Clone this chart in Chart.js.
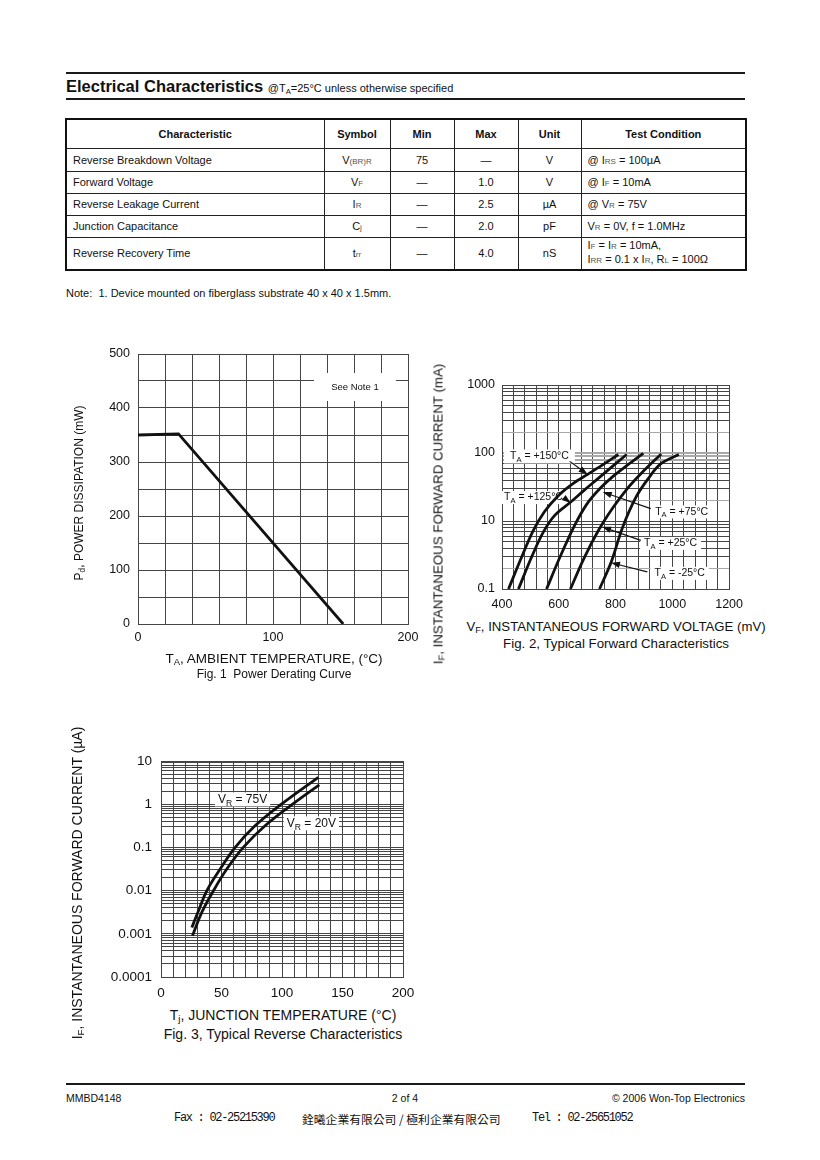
<!DOCTYPE html>
<html>
<head>
<meta charset="utf-8">
<script src="https://cdn.jsdelivr.net/npm/chart.js@4.4.0/dist/chart.umd.min.js"></script>
<style>
body { margin:0; background:#fff; color:#111; font-family:"Liberation Sans", Arial, sans-serif; }
#page { position:relative; width:820px; height:1160px; overflow:hidden; }
.abs { position:absolute; white-space:nowrap; }
.rule { position:absolute; left:66px; width:679px; background:#1a1a1a; }
.vt { position:absolute; white-space:nowrap; transform:translate(-50%,-50%) rotate(-90deg); }
.ct { position:absolute; white-space:nowrap; transform:translate(-50%,-50%); }
sub { font-size:70%; vertical-align:-0.25em; line-height:0; }
#spec { position:absolute; left:65px; top:118px; width:680px; border-collapse:collapse; border:2px solid #111; font-size:11px; table-layout:fixed; }
#spec th, #spec td { border:1px solid #222; padding:0 6px; text-align:center; }
#spec th { font-weight:bold; }
#spec td.l { text-align:left; }
.s { font-size:8px; color:#555; }
.mono { font-family:"Liberation Mono", monospace; font-size:12px; letter-spacing:-1.3px; }
canvas { position:absolute; }
</style>
</head>
<body>
<div id="page">
  <div class="rule" style="top:72px;height:2px"></div>
  <div class="abs" style="left:66px;top:77px;font-weight:bold;font-size:16.5px">Electrical Characteristics <span style="font-weight:normal;font-size:11px">@T<sub>A</sub>=25°C unless otherwise specified</span></div>
  <div class="rule" style="top:98px;height:2px"></div>

  <table id="spec">
    <colgroup><col style="width:258px"><col style="width:66px"><col style="width:64px"><col style="width:64px"><col style="width:63px"><col style="width:165px"></colgroup>
    <tr style="height:29px"><th>Characteristic</th><th>Symbol</th><th>Min</th><th>Max</th><th>Unit</th><th>Test Condition</th></tr>
    <tr style="height:23px"><td class="l">Reverse Breakdown Voltage</td><td>V<span class="s">(BR)R</span></td><td>75</td><td>—</td><td>V</td><td class="l">@ I<span class="s">RS</span> = 100µA</td></tr>
    <tr style="height:22px"><td class="l">Forward Voltage</td><td>V<span class="s">F</span></td><td>—</td><td>1.0</td><td>V</td><td class="l">@ I<span class="s">F</span> = 10mA</td></tr>
    <tr style="height:22px"><td class="l">Reverse Leakage Current</td><td>I<span class="s">R</span></td><td>—</td><td>2.5</td><td>µA</td><td class="l">@ V<span class="s">R</span> = 75V</td></tr>
    <tr style="height:22px"><td class="l">Junction Capacitance</td><td>C<span class="s">j</span></td><td>—</td><td>2.0</td><td>pF</td><td class="l">V<span class="s">R</span> = 0V, f = 1.0MHz</td></tr>
    <tr style="height:33px"><td class="l">Reverse Recovery Time</td><td>t<span class="s">rr</span></td><td>—</td><td>4.0</td><td>nS</td><td class="l" style="line-height:13px">I<span class="s">F</span> = I<span class="s">R</span> = 10mA,<br>I<span class="s">RR</span> = 0.1 x I<span class="s">R</span>, R<span class="s">L</span> = 100Ω</td></tr>
  </table>
  <div class="abs" style="left:66px;top:287px;font-size:11px">Note:&nbsp; 1. Device mounted on fiberglass substrate 40 x 40 x 1.5mm.</div>

  <canvas id="fig1" width="350" height="318" style="left:78px;top:336px"></canvas>
  <div class="vt" style="left:79px;top:493px;font-size:12px">P<sub>d</sub>, POWER DISSIPATION (mW)</div>
  <div class="ct" style="left:274px;top:658px;font-size:13.5px">T<sub>A</sub>, AMBIENT TEMPERATURE, (°C)</div>
  <div class="ct" style="left:274px;top:674px;font-size:12px">Fig. 1&nbsp; Power Derating Curve</div>

  <canvas id="fig2" width="309" height="250" style="left:442px;top:367px"></canvas>
  <div class="vt" style="left:438px;top:514px;font-size:13.3px">I<sub>F</sub>, INSTANTANEOUS FORWARD CURRENT (mA)</div>
  <div class="ct" style="left:616px;top:626px;font-size:13.2px">V<sub>F</sub>, INSTANTANEOUS FORWARD VOLTAGE (mV)</div>
  <div class="ct" style="left:616px;top:643px;font-size:13.3px">Fig. 2, Typical Forward Characteristics</div>

  <canvas id="fig3" width="322" height="264" style="left:101px;top:741px"></canvas>
  <div class="vt" style="left:77px;top:883px;font-size:14px">I<sub>F</sub>, INSTANTANEOUS FORWARD CURRENT (µA)</div>
  <div class="ct" style="left:283px;top:1015px;font-size:14px">T<sub>j</sub>, JUNCTION TEMPERATURE (°C)</div>
  <div class="ct" style="left:283px;top:1034px;font-size:14px">Fig. 3, Typical Reverse Characteristics</div>

  <div class="rule" style="top:1083px;height:2px"></div>
  <div class="abs" style="left:66px;top:1092px;font-size:10.5px">MMBD4148</div>
  <div class="ct" style="left:405px;top:1098px;font-size:10.5px">2 of 4</div>
  <div class="abs" style="right:75px;top:1092px;font-size:10.5px">© 2006 Won-Top Electronics</div>
  <div class="abs mono" style="left:174px;top:1111px">Fax : 02-25215390</div>
  <div class="abs" style="left:302px;top:1110px;font:11.8px 'Noto Sans CJK TC', sans-serif">銓曦企業有限公司 / 極利企業有限公司</div>
  <div class="abs mono" style="left:532px;top:1111px">Tel : 02-25651052</div>
</div>

<script>
// ---- Fig. 1 power derating ----
const fig1Temp = [0, 30, 152];
const fig1Power = [350, 352, 0];
const fig1XLabels = [0, 100, 200];
const fig1YLabels = [0, 100, 200, 300, 400, 500];

// ---- Fig. 2 forward characteristics (mV, mA) ----
const fig2V150 = [423, 470, 510, 550, 600, 650, 703, 757, 810];
const fig2I150 = [1, 3.0, 7.2, 13.8, 24, 35.5, 49, 68, 95];
const fig2V125 = [458, 505, 545, 585, 642, 690, 738, 790, 839];
const fig2I125 = [1, 3.0, 6.8, 12, 19, 28.5, 42, 64, 95];
const fig2V75 = [557, 605, 655, 700, 745, 790, 845, 898];
const fig2I75 = [1, 3.0, 8.5, 18, 30, 45, 68, 99];
const fig2V25 = [641, 690, 740, 790, 840, 890, 961];
const fig2I25 = [1, 2.9, 7.3, 15.5, 29.5, 50, 97];
const fig2Vm25 = [743.5, 784, 825, 872, 915, 959, 1023];
const fig2Im25 = [1, 2.45, 8.1, 22.4, 42, 69, 95];
const fig2XLabels = [400, 600, 800, 1000, 1200];
const fig2YTickValues = [1, 10, 100, 1000];
const fig2YTickLabels = ['0.1', '10', '100', '1000'];

// ---- Fig. 3 reverse characteristics (°C, µA) ----
const fig3T75 = [25.5, 30.5, 37.9, 48.9, 61.3, 77.7, 99.5, 130];
const fig3I75 = [0.0014, 0.00316, 0.01, 0.0316, 0.1, 0.316, 1, 4.2];
const fig3T20 = [26, 33.8, 43.4, 54.4, 68, 86, 108.8, 130.8];
const fig3I20 = [0.0009, 0.00316, 0.01, 0.0316, 0.1, 0.316, 1, 2.8];
const fig3XLabels = [0, 50, 100, 150, 200];
const fig3YTickValues = [0.0001, 0.001, 0.01, 0.1, 1, 10];
const fig3YTickLabels = ['0.0001', '0.001', '0.01', '0.1', '1', '10'];

const ink = '#111';
const gridInk = '#454545';
const font = '"Liberation Sans", Arial, sans-serif';

function xy(xs, ys) { return xs.map((x, i) => ({ x: x, y: ys[i] })); }

function curve(xs, ys, tension) {
  return {
    data: xy(xs, ys), showLine: true, borderColor: ink, borderWidth: 2.8,
    pointRadius: 0, fill: false, tension: tension
  };
}

function linTicks(min, max, step) {
  const t = [];
  for (let v = min; v <= max + 1e-9; v += step) t.push({ value: +v.toFixed(6) });
  return t;
}
function logTicks(lo, hi) {
  const t = [];
  for (let d = lo; d < hi * 0.999; d *= 10)
    for (let k = 1; k < 10; k++) t.push({ value: +(k * d).toPrecision(3) });
  t.push({ value: hi });
  return t;
}
function pickLabel(values, labels, isLog) {
  return v => {
    const i = values.findIndex(t => isLog ? Math.abs(Math.log10(t) - Math.log10(v)) < 1e-6 : Math.abs(t - v) < 1e-6);
    return i >= 0 ? labels[i] : '';
  };
}

// text with subscripts, parts = [[text, isSub], ...]
function partsWidth(ctx, parts, size) {
  let w = 0;
  parts.forEach(p => { ctx.font = (p[1] ? size * 0.72 : size) + 'px ' + font; w += ctx.measureText(p[0]).width; });
  return w;
}
function drawParts(ctx, parts, cx, cy, size) {
  let x = cx - partsWidth(ctx, parts, size) / 2;
  ctx.textAlign = 'left'; ctx.textBaseline = 'middle'; ctx.fillStyle = ink;
  parts.forEach(p => {
    ctx.font = (p[1] ? size * 0.72 : size) + 'px ' + font;
    ctx.fillText(p[0], x, cy + (p[1] ? size * 0.32 : 0));
    x += ctx.measureText(p[0]).width;
  });
}

const notes = {
  id: 'notes',
  beforeDatasetsDraw(chart, args, opts) {
    const { ctx, scales: { x, y } } = chart;
    ctx.save();
    ctx.fillStyle = '#fff';
    (opts.labels || []).forEach(l => {
      const cx = x.getPixelForValue(l.at[0]), cy = y.getPixelForValue(l.at[1]);
      const w = l.w || partsWidth(ctx, l.parts, l.size) + 2 * l.padX;
      ctx.fillRect(cx - w / 2, cy - l.h / 2, w, l.h);
    });
    ctx.restore();
  },
  afterDatasetsDraw(chart, args, opts) {
    const { ctx, scales: { x, y } } = chart;
    ctx.save();
    (opts.labels || []).forEach(l => {
      drawParts(ctx, l.parts, x.getPixelForValue(l.at[0]), y.getPixelForValue(l.at[1]), l.size);
    });
    (opts.arrows || []).forEach(a => {
      const x0 = x.getPixelForValue(a.from[0]), y0 = y.getPixelForValue(a.from[1]);
      const x1 = x.getPixelForValue(a.to[0]), y1 = y.getPixelForValue(a.to[1]);
      const ang = Math.atan2(y1 - y0, x1 - x0), c = Math.cos(ang), s = Math.sin(ang);
      ctx.strokeStyle = ink; ctx.fillStyle = ink; ctx.lineWidth = 1.2;
      ctx.beginPath(); ctx.moveTo(x0, y0); ctx.lineTo(x1 - 6 * c, y1 - 6 * s); ctx.stroke();
      ctx.beginPath();
      ctx.moveTo(x1, y1);
      ctx.lineTo(x1 - 9 * c + 3.2 * s, y1 - 9 * s - 3.2 * c);
      ctx.lineTo(x1 - 9 * c - 3.2 * s, y1 - 9 * s + 3.2 * c);
      ctx.closePath(); ctx.fill();
    });
    ctx.restore();
  }
};

function axisX(min, max, ticks, labelFn, h, pad, size, grid) {
  return {
    type: 'linear', min: min, max: max,
    afterBuildTicks: s => { s.ticks = ticks; },
    afterFit: s => { s.height = h; },
    ticks: { autoSkip: false, maxRotation: 0, padding: pad, color: ink, font: { family: font, size: size }, callback: labelFn },
    grid: Object.assign({ color: gridInk, lineWidth: 1, drawTicks: false }, grid || {}),
    border: { display: true, color: gridInk, width: 1 }
  };
}
function axisY(type, min, max, ticks, labelFn, w, pad, size, grid) {
  const a = axisX(min, max, ticks, labelFn, 0, pad, size, grid);
  a.type = type;
  a.afterFit = s => { s.width = w; };
  return a;
}

function baseOptions(pad, scales, notesOpts) {
  return {
    responsive: false, animation: false, devicePixelRatio: 1,
    layout: { padding: pad },
    plugins: { legend: { display: false }, tooltip: { enabled: false }, notes: notesOpts },
    scales: scales
  };
}

const sub = (main, s, rest) => [[main, 0], [s, 1], [rest, 0]];

// Fig. 1
new Chart(document.getElementById('fig1'), {
  type: 'scatter',
  data: { datasets: [curve(fig1Temp, fig1Power, 0)] },
  options: baseOptions({ top: 18, right: 20, left: 0, bottom: 0 }, {
    x: axisX(0, 200, linTicks(0, 200, 20), pickLabel(fig1XLabels, fig1XLabels.map(String), false), 30, 6, 12.5),
    y: axisY('linear', 0, 500, linTicks(0, 500, 50), pickLabel(fig1YLabels, fig1YLabels.map(String), false), 60, 8, 12.5)
  }, {
    labels: [{ at: [160.7, 439], parts: [['See Note 1', 0]], size: 9.5, w: 82, h: 28 }]
  }),
  plugins: [notes]
});

// Fig. 2
const fig2Grey = [2, 20, 80, 90, 100, 200];
new Chart(document.getElementById('fig2'), {
  type: 'scatter',
  data: { datasets: [
    curve(fig2V150, fig2I150, 0.35), curve(fig2V125, fig2I125, 0.35), curve(fig2V75, fig2I75, 0.35),
    curve(fig2V25, fig2I25, 0.35), curve(fig2Vm25, fig2Im25, 0.35)
  ] },
  options: baseOptions({ top: 18, right: 20, left: 0, bottom: 0 }, {
    x: axisX(400, 1200, linTicks(400, 1200, 40), pickLabel(fig2XLabels, fig2XLabels.map(String), false), 28, 8, 12.5),
    y: axisY('logarithmic', 1, 1000, logTicks(1, 1000), pickLabel(fig2YTickValues, fig2YTickLabels, true), 60, 7, 12.5, {
      color: c => fig2Grey.some(v => Math.abs(c.tick.value - v) < 1e-6) ? '#a8a8a8' : gridInk,
      lineWidth: c => [80, 90, 100].some(v => Math.abs(c.tick.value - v) < 1e-6) ? 2 : 1
    })
  }, {
    labels: [
      { at: [532, 89], parts: sub('T', 'A', ' = +150°C'), size: 10.5, padX: 6, h: 14 },
      { at: [511, 22.1], parts: sub('T', 'A', ' = +125°C'), size: 10.5, padX: 4, h: 13 },
      { at: [1033, 13.6], parts: sub('T', 'A', ' = +75°C'), size: 10.5, padX: 4, h: 13 },
      { at: [994, 4.68], parts: sub('T', 'A', ' = +25°C'), size: 10.5, padX: 4, h: 13 },
      { at: [1026, 1.70], parts: sub('T', 'A', ' = -25°C'), size: 10.5, padX: 4, h: 13 }
    ],
    arrows: [
      { from: [638.6, 75.3], to: [701.5, 48.5] },
      { from: [621, 21.6], to: [642, 18.4] },
      { from: [924, 15.2], to: [755, 26.7] },
      { from: [889, 5.2], to: [752.7, 8.2] },
      { from: [912, 1.79], to: [784, 2.43] }
    ]
  }),
  plugins: [notes]
});

// Fig. 3
new Chart(document.getElementById('fig3'), {
  type: 'scatter',
  data: { datasets: [curve(fig3T75, fig3I75, 0.4), curve(fig3T20, fig3I20, 0.4)] },
  options: baseOptions({ top: 20, right: 20, left: 0, bottom: 0 }, {
    x: axisX(0, 200, linTicks(0, 200, 10), pickLabel(fig3XLabels, fig3XLabels.map(String), false), 28, 8, 13.5),
    y: axisY('logarithmic', 0.0001, 10, logTicks(0.0001, 10), pickLabel(fig3YTickValues, fig3YTickLabels, true), 60, 9, 13.5)
  }, {
    labels: [
      { at: [67.4, 1.29], parts: sub('V', 'R', ' = 75V'), size: 12, padX: 3, h: 14 },
      { at: [124.3, 0.36], parts: sub('V', 'R', ' = 20V'), size: 12, padX: 3, h: 14 }
    ]
  }),
  plugins: [notes]
});
</script>
</body>
</html>
